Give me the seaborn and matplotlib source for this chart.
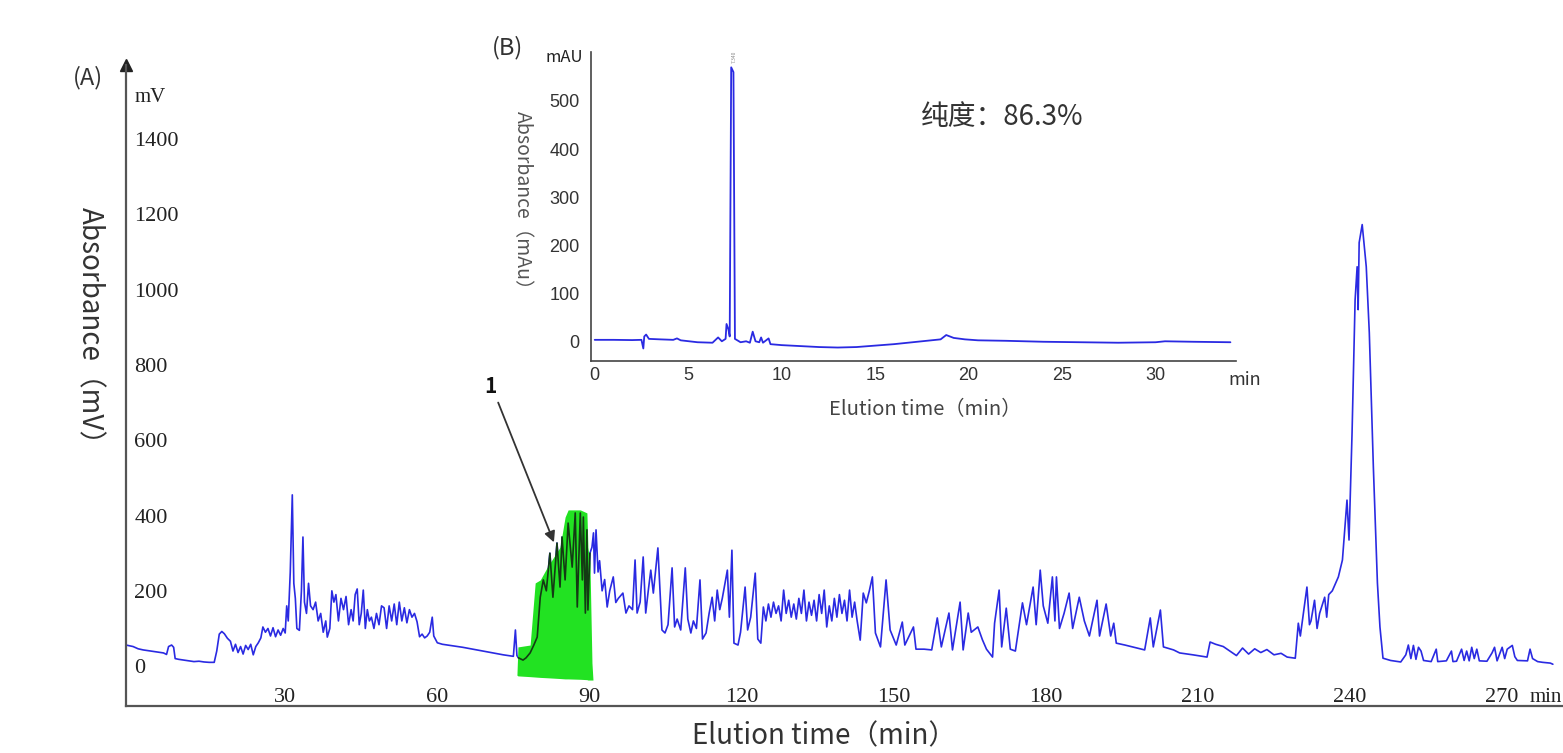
import matplotlib
matplotlib.use("Agg")
import matplotlib.pyplot as plt
from matplotlib.ticker import MultipleLocator
import seaborn as sns
import pandas as pd

# main chromatogram (A): elution time (min) / absorbance (mV)
main_time = [
    -1.4, 0, 1, 2, 3, 4, 5, 6, 6.6, 7.0, 7.6, 8.0, 8.3, 9, 10, 11, 12, 13, 14, 15, 16,
    16.5, 17, 17.5, 18, 18.6, 19.2, 19.7, 20.2, 20.7, 21.2, 21.7, 22.2, 22.7, 23.2, 23.7, 24.2, 24.7, 25.2, 25.6, 26.1, 26.6, 27.1, 27.6, 28.1, 28.6, 29.1, 29.6, 30.0,
    30.3, 30.6, 31.0, 31.4, 31.7, 32.0, 32.3, 32.8, 33.2, 33.5, 33.8, 34.2, 34.6, 35.0, 35.5, 36.0, 36.5, 37.0, 37.5, 38.0, 38.3, 38.8, 39.2, 39.6, 40.0,
    40.5, 41.0, 41.5, 42.0, 42.5, 43.0, 43.4, 43.8, 44.2, 44.6, 45.0, 45.4, 45.8, 46.2, 46.6, 47.0, 47.5, 48.0, 48.5, 49.0, 49.5, 50.0,
    50.5, 51.0, 51.5, 52.0, 52.5, 53.0, 53.5, 54.0, 54.5, 55.0, 55.5, 56.0, 56.5, 57.0, 57.5, 58.0, 58.5, 59.0, 59.3, 60.0,
    61, 63, 65, 67, 69, 71, 73, 75, 75.4, 75.7,
    76.0, 76.9, 77.5, 78.3, 79.0, 79.7, 80.3, 80.9, 81.5, 82.2, 82.8, 83.6, 84.2, 84.6, 85.2, 85.8, 86.6, 87.2, 87.6, 88.2, 88.6, 88.8, 89.2, 89.5, 89.7, 90.1,
    90.5, 90.8, 91.0, 91.3, 91.7, 92.0, 92.5, 93.0, 93.5, 94.0, 94.7, 95.2, 95.7, 96.6, 97.2, 97.8, 98.5, 99.0, 99.4, 100.0,
    100.6, 101.1, 101.6, 102.1, 102.6, 103.5, 104.3, 104.9, 105.5, 106.3, 106.8, 107.3, 108.0, 108.9, 109.4, 110.0, 110.5, 111.1, 111.8, 112.3,
    113.0, 113.6, 114.2, 114.7, 115.2, 115.7, 116.2, 117.2, 117.6, 118.1, 118.5, 119.3, 119.8, 120.7, 121.2, 121.8, 122.7, 123.2, 123.8, 124.3,
    124.8, 125.3, 125.8, 126.3, 126.8, 127.3, 127.8, 128.3, 128.8, 129.3, 129.8, 130.3, 130.8, 131.3, 131.8, 132.3, 132.8, 133.3, 133.8, 134.3,
    134.8, 135.3, 135.8, 136.3, 136.8, 137.3, 137.8, 138.3, 138.8, 139.3, 139.8, 140.3, 140.8, 141.3, 141.8, 142.3, 142.8, 143.4,
    144.0, 144.6, 145.2, 145.8, 146.4, 147.4, 148.5, 149.3, 150.5, 151.7, 152.2, 153.9, 154.4, 156.0, 157.5, 158.6, 159.4, 160.9, 161.6, 163.1,
    163.7, 164.7, 165.3, 166.6, 167.5, 168.3, 169.5, 169.9, 170.8, 171.3, 172.2, 173.0, 174.0, 174.8, 175.4, 176.2, 177.5, 178.1, 178.9, 179.5,
    180.4, 181.3, 181.8, 182.1, 182.7, 183.6, 184.6, 185.3, 186.6, 187.6, 188.6, 190.1, 190.6, 191.9, 192.8, 193.4, 193.9, 195.6, 199.5, 200.6,
    201.2, 202.6, 203.2, 205.2, 206.4, 209, 211.8, 212.4, 213.5, 215.0, 216.3, 217.6, 218.8, 220.0, 221.2, 222.4, 223.6, 225.0, 226.4, 227.6, 229.2,
    229.8, 230.2, 231.5, 232.0, 232.3, 233.0, 233.5, 234.0, 235.0, 235.4, 235.8, 236.5, 237.7, 238.5, 239.4, 239.8, 240.4, 241.0, 241.4, 241.6,
    241.8, 242.4, 243.2, 243.8, 244.6, 245.4, 245.9, 246.5, 248, 250, 251, 251.5, 252, 252.5, 253, 253.5, 254, 254.5, 256, 257,
    257.3, 259, 260, 260.3, 261, 262, 262.5, 263, 263.5, 264, 264.5, 265, 265.5, 267, 268, 268.5, 269, 270, 270.5, 271,
    272, 272.5, 273, 275, 275.5, 276, 277, 278, 279.5, 280,
]
main_mv = [
    56, 52, 46, 43, 41, 39, 37, 35, 31, 52, 56, 50, 20, 18, 16, 14, 12, 13, 11, 10, 10,
    40, 85, 92, 86, 74, 66, 40, 58, 36, 52, 32, 55, 44, 58, 30, 52, 62, 75, 104, 90, 100, 80, 102, 78, 96, 82, 100, 88,
    160, 120, 250, 455, 220, 180, 100, 95, 200, 343, 170, 140, 220, 160, 150, 170, 120, 140, 90, 120, 77, 100, 200, 170, 190,
    120, 180, 150, 185, 110, 150, 120, 190, 205, 110, 140, 202, 100, 150, 120, 130, 100, 140, 110, 160, 155, 100,
    160, 120, 165, 110, 170, 120, 155, 115, 150, 130, 140, 118, 78, 85, 75, 80, 90, 130, 80, 62,
    58, 54, 50, 45, 40, 35, 30, 26, 96, 28,
    22, 16, 22, 35, 55, 77, 183, 229, 200, 300, 183, 327, 210, 343, 229, 380, 263, 407, 157, 407, 229, 396, 141, 362, 149, 300,
    316, 354, 247, 362, 250, 280, 200, 230, 157, 200, 237, 169, 180, 194, 141, 160, 150, 282, 141, 170,
    290, 141, 200, 255, 194, 314, 96, 88, 110, 261, 104, 125, 96, 261, 125, 88, 120, 100, 229, 72,
    88, 140, 183, 120, 202, 150, 180, 255, 130, 308, 61, 56, 90, 210, 96, 130, 247, 72, 61, 157,
    120, 165, 130, 170, 140, 160, 120, 202, 140, 175, 130, 165, 125, 180, 140, 202, 120, 170, 135, 175,
    120, 190, 140, 202, 104, 160, 120, 180, 130, 190, 140, 175, 120, 202, 130, 170, 120, 69,
    194, 168, 200, 237, 88, 51, 229, 96, 56, 117, 56, 104, 45, 45, 43, 128, 51, 141, 43, 170,
    43, 141, 90, 104, 70, 45, 24, 114, 202, 51, 154, 45, 40, 114, 168, 110, 210, 110, 255, 160,
    114, 237, 120, 237, 100, 140, 194, 100, 183, 120, 80, 175, 80, 165, 80, 114, 61, 56, 43, 128,
    51, 149, 51, 43, 35, 30, 24, 64, 58, 52, 40, 28, 48, 32, 46, 36, 44, 30, 34, 24, 21,
    114, 80, 210, 110, 120, 175, 100, 140, 183, 130, 190, 200, 237, 282, 441, 335, 620, 973, 1061, 947,
    1125, 1173, 1061, 886, 529, 221, 104, 21, 15, 11, 30, 56, 20, 55, 18, 50, 40, 15, 12, 45,
    12, 14, 40, 12, 13, 45, 15, 40, 14, 50, 20, 45, 14, 13, 35, 50, 14, 50, 20, 45,
    55, 25, 15, 14, 45, 20, 12, 10, 8, 5,
]

# green highlighted fraction "1"
green_time = [75.7, 75.9, 78.3, 79.3, 80.3, 81.7, 84.2, 85.2, 85.8, 88.2, 89.5, 89.7, 90.1, 90.5, 90.7]
green_top = [-24, 51, 56, 221, 229, 263, 316, 396, 415, 415, 407, 316, 274, 8, -37]
green_bottom = [-24, -26, -28, -29, -30, -31, -33, -34, -34, -35, -36, -37, -37, -37, -37]

x_ticks = [30, 60, 90, 120, 150, 180, 210, 240, 270]
y_ticks = [0, 200, 400, 600, 800, 1000, 1200, 1400]

# inset (B): HPLC purity check
inset_time = [0, 1, 2, 2.5, 2.6, 2.65, 2.75, 2.9, 3.5, 4.2,
              4.4, 4.6, 5.5, 6.3, 6.6, 6.8, 7.0, 7.05, 7.15, 7.22,
              7.3, 7.42, 7.5, 7.8, 8.1, 8.3, 8.45, 8.6, 8.8, 8.9,
              9.0, 9.3, 9.4, 10, 11, 12, 13, 14, 15, 16,
              17, 18, 18.5, 18.8, 19.2, 19.8, 20.5, 22, 24, 26,
              28, 30, 30.5, 32, 34]
inset_mau = [3, 3, 2.5, 3, -15, 10, 14, 5, 4, 3,
             6, 2, -2, -3, 8, 0, 5, 36, 25, 10,
             570, 560, 5, -2, 0, -3, 20, 0, -2, 8,
             -3, 6, -6, -8, -10, -12, -13, -12, -9, -6,
             -2, 2, 4, 13, 7, 4, 2, 1, -1, -2,
             -3, -2, 0, -1, -2]
inset_x_ticks = [0, 5, 10, 15, 20, 25, 30]
inset_y_ticks = [0, 100, 200, 300, 400, 500]

blue = "#2a2ae2"
grey = "#555555"
serif = "Liberation Serif"

sns.set_theme(style="white")
plt.rcParams["font.family"] = ["Noto Sans CJK SC", "DejaVu Sans"]

fig = plt.figure(figsize=(15.63, 7.53), dpi=100)
ax = fig.add_axes([0.0806, 0.0624, 0.9194, 0.8513])

df = pd.DataFrame({"time": main_time, "mv": main_mv})
sns.lineplot(data=df, x="time", y="mv", ax=ax, color=blue, linewidth=1.2, estimator=None)
ax.fill_between(green_time, green_bottom, green_top, color="#22e222", linewidth=0, zorder=3)
frac = df[(df["time"] >= 75.9) & (df["time"] <= 90.3)]
sns.lineplot(data=frac, x="time", y="mv", ax=ax, color="#143a14", linewidth=1.2, estimator=None, zorder=4)

ax.set_xlim(-1.4, 282)
ax.set_ylim(-106, 1597)
ax.set_xlabel("")
ax.set_ylabel("")
ax.spines[["top", "right"]].set_visible(False)
for s in ["left", "bottom"]:
    ax.spines[s].set_color(grey)
    ax.spines[s].set_linewidth(1.6)

ax.set_xticks(x_ticks, labels=[str(v) for v in x_ticks], fontfamily=serif, fontsize=16)
ax.set_yticks(y_ticks, labels=[str(v) for v in y_ticks], fontfamily=serif, fontsize=16, ha="left")
ax.tick_params(axis="x", direction="in", length=5, width=1, color=grey, pad=-13, labelcolor="#222")
ax.tick_params(axis="y", direction="in", length=4, width=1, color=grey, pad=-6, labelcolor="#222")
ax.plot(0, 1, marker="^", markersize=9, color="#222", transform=ax.transAxes, clip_on=False)

ax.annotate("", xy=(83.2, 322), xytext=(71.8, 707),
            arrowprops=dict(arrowstyle="-|>", color="#333", lw=1.3, mutation_scale=16))
ax.text(70.4, 742, "1", fontsize=15, fontweight="bold", ha="center", va="center", color="#111")

fig.text(1562 / 1563, 1 - 697 / 753, "min", fontfamily=serif, fontsize=15, ha="right", va="center", color="#222")
fig.text(88 / 1563, 1 - 78 / 753, "(A)", fontsize=17, ha="center", va="center", color="#333")
fig.text(150 / 1563, 1 - 98 / 753, "mV", fontfamily=serif, fontsize=15, ha="center", va="center", color="#222")
fig.text(90 / 1563, 1 - 333 / 753, "Absorbance（mV）", fontsize=20, rotation=270,
         ha="center", va="center", color="#333")
fig.text(824 / 1563, 2 / 753, "Elution time（min）", fontsize=20, ha="center", va="bottom", color="#333")

# inset
ax2 = fig.add_axes([0.3781, 0.5206, 0.4127, 0.4104])
ax2.patch.set_visible(False)
sns.lineplot(x=inset_time, y=inset_mau, ax=ax2, color=blue, linewidth=1.3, estimator=None)
ax2.set_xlim(-0.2, 34.3)
ax2.set_ylim(-41, 602)
ax2.spines[["top", "right"]].set_visible(False)
for s in ["left", "bottom"]:
    ax2.spines[s].set_color("#444")
    ax2.spines[s].set_linewidth(1.2)
ax2.set_xticks(inset_x_ticks, labels=[str(v) for v in inset_x_ticks], fontfamily="Liberation Sans", fontsize=13)
ax2.set_yticks(inset_y_ticks, labels=[str(v) for v in inset_y_ticks], fontfamily="Liberation Sans", fontsize=13)
ax2.xaxis.set_minor_locator(MultipleLocator(1))
ax2.yaxis.set_minor_locator(MultipleLocator(20))
ax2.tick_params(axis="x", which="both", direction="in", color="#444", labelcolor="#333", pad=4)
ax2.tick_params(axis="y", which="both", direction="out", color="#444", labelcolor="#333", pad=4)
ax2.tick_params(which="major", length=4, width=1)
ax2.tick_params(which="minor", length=2, width=0.8)
ax2.text(7.45, 580, "7.340", rotation=90, fontsize=3.5, color="#888", ha="center", va="bottom")

fig.text(507 / 1563, 1 - 48 / 753, "(B)", fontsize=17, ha="center", va="center", color="#333")
fig.text(564 / 1563, 1 - 57 / 753, "mAU", fontsize=12, ha="center", va="center", color="#222")
fig.text(522 / 1563, 1 - 205 / 753, "Absorbance（mAu）", fontsize=14, rotation=270,
         ha="center", va="center", color="#555")
fig.text(1245 / 1563, 1 - 380 / 753, "min", fontsize=13, ha="center", va="center", color="#333")
fig.text(925 / 1563, 1 - 410 / 753, "Elution time（min）", fontsize=14.5, ha="center", va="center", color="#444")
fig.text(1002 / 1563, 1 - 117 / 753, "纯度：86.3%", fontsize=20, ha="center", va="center", color="#333")

fig.savefig("out.png", dpi=100)
